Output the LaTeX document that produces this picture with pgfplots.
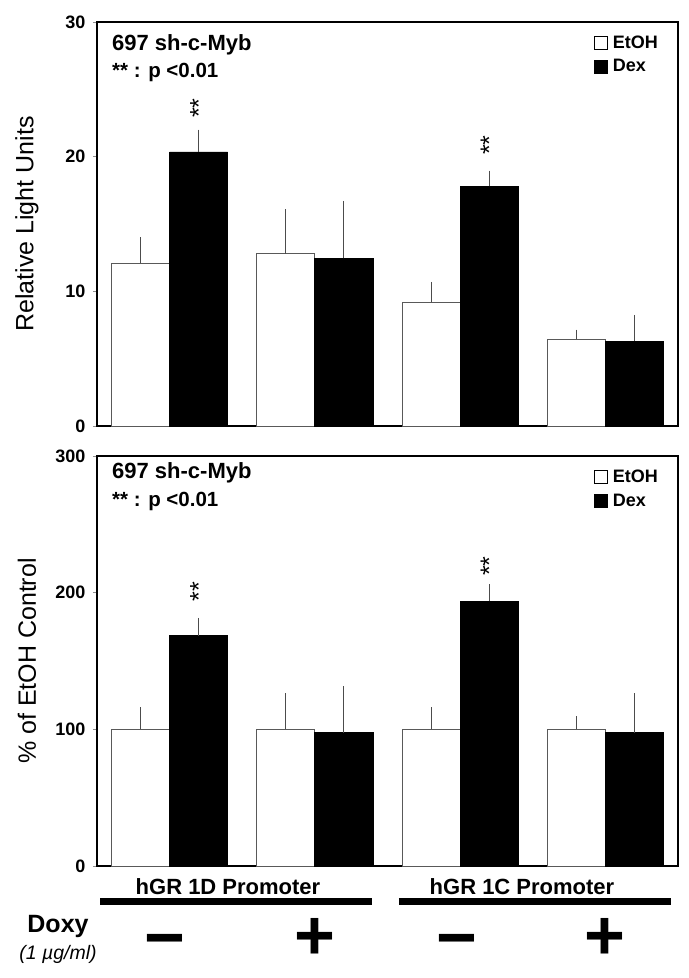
\documentclass[border=0pt]{standalone}
\usepackage{fontspec}
\setmainfont{Liberation Sans}
\usepackage{pgfplots}
\usepackage{pgfplotstable}
\pgfplotsset{compat=1.18}
\pgfplotsset{
  panel/.style={
    scale only axis, width=581bp,
    xmin=-0.5, xmax=3.5, ymin=0,
    xtick=\empty, ytick pos=left,
    tick align=outside, major tick length=4bp,
    tick style={black!45, line width=0.8bp},
    axis line style={line width=2.5bp},
    /pgf/number format/assume math mode=true,
    yticklabel style={font=\fontsize{18bp}{20bp}\selectfont\bfseries, xshift=-4bp},
    every axis y label/.style={at={(rel axis cs:0,0.5)}, xshift=-70bp, rotate=90, anchor=center,
      font=\fontsize{25bp}{30bp}\selectfont},
    legend style={draw=none, fill=none, at={(0.969,0.972)}, anchor=north east,
      font=\fontsize{18bp}{21bp}\selectfont\bfseries, row sep=6bp, inner sep=0pt,
      /tikz/every odd column/.append style={column sep=3bp}},
    legend cell align=left,
    clip=false,
  },
  etoh/.style={ybar, bar width=0.4, bar shift=0, fill=white, draw=black!65, line width=0.8bp,
    legend image code/.code={\draw[fill=white, draw=black, line width=0.6bp] (0bp,-6.5bp) rectangle (13bp,6.5bp);},
    error bars/.cd, y dir=plus, y explicit,
    error bar style={line width=0.9bp, black!70},
    error mark options={line width=0.9bp, black!70, mark size=3.5bp}},
  dex/.style={ybar, bar width=0.4, bar shift=0, fill=black, draw=black, line width=0.8bp,
    legend image code/.code={\fill[black] (0bp,-6.5bp) rectangle (13bp,6.5bp);},
    error bars/.cd, y dir=plus, y explicit,
    error bar style={line width=0.9bp, black!70},
    error mark options={line width=0.9bp, black!70, mark size=3.5bp}},
}
\tikzset{
  star/.style={rotate=90, xshift=4bp, font=\fontsize{25bp}{27bp}\selectfont},
  ann/.style={anchor=west, inner sep=0pt, font=\fontsize{22bp}{26bp}\selectfont\bfseries},
  ann2/.style={anchor=west, inner sep=0pt, font=\fontsize{20.5bp}{24bp}\selectfont\bfseries},
  pm/.style={font=\fontsize{70bp}{70bp}\selectfont\bfseries, inner sep=0pt},
  grp/.style={font=\fontsize{22bp}{26bp}\selectfont\bfseries},
}
\pgfplotstableread{
x  y     e
0  12.1  1.65
1  12.8  3.05
2  9.2   1.25
3  6.45  0.45
}\topetoh
\pgfplotstableread{
x  y     e
0  20.35 1.4
1  12.45 4.0
2  17.8  0.9
3  6.3   1.7
}\topdex
\pgfplotstableread{
x  y     e
0  100   13.7
1  100   24
2  100   13.7
3  100   7
}\botetoh
\pgfplotstableread{
x  y     e
0  168.5 10.5
1  97.5  31.5
2  193.8 9.8
3  97.5  26.5
}\botdex
\begin{document}
\begin{tikzpicture}
% top panel
\begin{axis}[panel, height=404bp, at={(97bp,-426bp)}, anchor=south west,
  ymax=30, ytick={0,10,20,30}, ylabel={Relative Light Units}]
\addplot[etoh] table[x expr=\thisrow{x}-0.2, y=y, y error=e] {\topetoh};
\addlegendentry{EtOH}
\addplot[dex] table[x expr=\thisrow{x}+0.2, y=y, y error=e] {\topdex};
\addlegendentry{Dex}
\node[ann] at (rel axis cs:0.0258,0.943) {697 sh-c-Myb};
\node[ann2] at (rel axis cs:0.0258,0.874) {** : p <0.01};
\node[star] at (axis cs:0.2,23.3) {**};
\node[star] at (axis cs:2.2,20.55) {**};
\end{axis}
% bottom panel
\begin{axis}[panel, height=410bp, at={(97bp,-866bp)}, anchor=south west,
  ymax=300, ytick={0,100,200,300}, ylabel={\% of EtOH Control}]
\addplot[etoh] table[x expr=\thisrow{x}-0.2, y=y, y error=e] {\botetoh};
\addlegendentry{EtOH}
\addplot[dex] table[x expr=\thisrow{x}+0.2, y=y, y error=e] {\botdex};
\addlegendentry{Dex}
\node[ann] at (rel axis cs:0.0258,0.958) {697 sh-c-Myb};
\node[ann2] at (rel axis cs:0.0258,0.888) {** : p <0.01};
\node[star] at (axis cs:0.2,197.6) {**};
\node[star] at (axis cs:2.2,216.5) {**};
\node[grp] at (axis cs:0.402,-15.4) {hGR 1D Promoter};
\node[grp] at (axis cs:2.426,-15.4) {hGR 1C Promoter};
\draw[line width=7bp] (axis cs:-0.479,-26.3) -- (axis cs:1.393,-26.3);
\draw[line width=7bp] (axis cs:1.579,-26.3) -- (axis cs:3.452,-26.3);
\node[font=\fontsize{25bp}{28bp}\selectfont\bfseries] at (axis cs:-0.7685,-44.6) {Doxy};
\node[font=\fontsize{19.5bp}{22bp}\selectfont\itshape] at (axis cs:-0.7685,-64.4) {(1 µg/ml)};
\node[pm] at (axis cs:-0.03,-60.1) {−};
\node[pm] at (axis cs:1,-53.5) {+};
\node[pm] at (axis cs:1.98,-60.1) {−};
\node[pm] at (axis cs:3,-53.5) {+};
\end{axis}
\pgfresetboundingbox
\path[use as bounding box] (0bp,0bp) rectangle (689bp,-978bp);
\end{tikzpicture}
\end{document}
